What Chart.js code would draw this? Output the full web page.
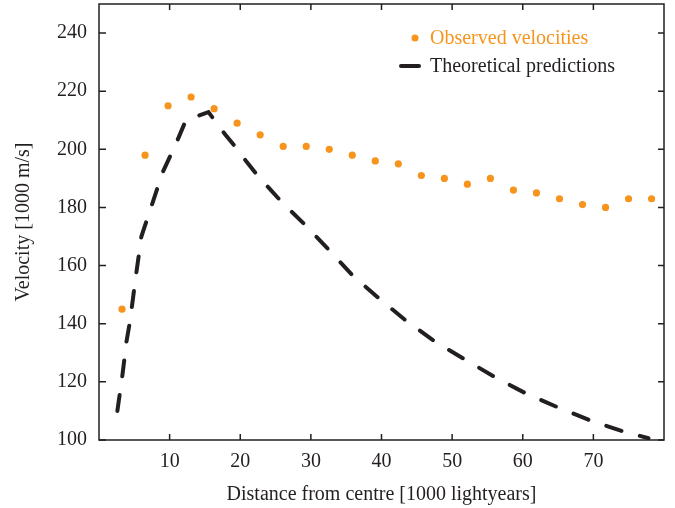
<!DOCTYPE html>
<html>
<head>
<meta charset="utf-8">
<script src="https://cdn.jsdelivr.net/npm/chart.js@4.4.1/dist/chart.umd.min.js"></script>
<style>
	html, body { margin: 0; padding: 0; background: #fff; }
</style>
</head>
<body>
<canvas id="myChart" width="675" height="508"></canvas>
<script>
// observed points (x in 1000 lightyears)
var distance = [3.26, 6.52, 9.78, 13.04, 16.3, 19.56, 22.82, 26.08, 29.34, 32.6, 35.86, 39.12,
	42.38, 45.64, 48.9, 52.16, 55.42, 58.68, 61.94, 65.2, 68.46, 71.72, 74.98, 78.24];
var observed = [145, 198, 215, 218, 214, 209, 205, 201, 201, 200, 198, 196,
	195, 191, 190, 188, 190, 186, 185, 183, 181, 180, 183, 183];

// theoretical curve
var theoryDistance = [2.6, 3.3, 3.9, 4.4, 5.2, 6.0, 7.5, 9.0, 11.0, 12.3, 15.5, 17.9, 19.5, 20.9,
	22.6, 25.9, 29.4, 32.7, 36.0, 39.8, 43.6, 47.5, 51.8, 56.1, 60.3, 64.8, 69.5, 74.0, 77.8];
var theoryVelocity = [110, 122, 134, 141, 156, 170, 181, 192, 202.5, 210, 212.8, 205, 200.3, 195.7,
	190.6, 181.8, 173.5, 165, 156.4, 148.4, 140.8, 134, 127.7, 121.6, 116.2, 111.4, 106.8, 103.1, 100.6];

var xTicks = [10, 20, 30, 40, 50, 60, 70];
var yTicks = [100, 120, 140, 160, 180, 200, 220, 240];

var orange = '#f7941d';
var ink = '#231f20';
var serif = '"Liberation Serif", "Times New Roman", serif';

function toPoints(xs, ys) {
	return xs.map(function(x, i) {
		return { x: x, y: ys[i] };
	});
}

// box round the plot with ticks pointing inwards
var frameTicks = {
	id: 'frameTicks',
	afterDraw: function(chart) {
		var ctx = chart.ctx;
		var a = chart.chartArea;
		var xs = chart.scales.x;
		var ys = chart.scales.y;
		ctx.save();
		ctx.strokeStyle = ink;
		ctx.lineWidth = 1.5;
		ctx.strokeRect(a.left, a.top, a.right - a.left, a.bottom - a.top);
		ctx.beginPath();
		xs.ticks.forEach(function(t) {
			var px = xs.getPixelForValue(t.value);
			ctx.moveTo(px, a.bottom);
			ctx.lineTo(px, a.bottom - 6);
			ctx.moveTo(px, a.top);
			ctx.lineTo(px, a.top + 6);
		});
		ys.ticks.forEach(function(t) {
			var py = ys.getPixelForValue(t.value);
			ctx.moveTo(a.left, py);
			ctx.lineTo(a.left + 7, py);
			ctx.moveTo(a.right, py);
			ctx.lineTo(a.right - 6, py);
		});
		ctx.stroke();
		ctx.restore();
	}
};

// legend inside the plot, top right
var innerLegend = {
	id: 'innerLegend',
	afterDraw: function(chart) {
		var ctx = chart.ctx;
		var sets = chart.data.datasets;
		ctx.save();
		ctx.font = '20px ' + serif;
		ctx.textBaseline = 'middle';
		ctx.textAlign = 'left';

		ctx.fillStyle = orange;
		ctx.beginPath();
		ctx.arc(415, 38, 3.5, 0, Math.PI * 2);
		ctx.fill();
		ctx.fillText(sets[1].label, 430, 39);

		ctx.strokeStyle = ink;
		ctx.lineWidth = 4;
		ctx.lineCap = 'round';
		ctx.beginPath();
		ctx.moveTo(401, 66);
		ctx.lineTo(419, 66);
		ctx.stroke();
		ctx.fillStyle = ink;
		ctx.fillText(sets[0].label, 430, 67);
		ctx.restore();
	}
};

var ctx = document.getElementById('myChart').getContext('2d');
var myChart = new Chart(ctx, {
	type: 'scatter',
	data: {
		datasets: [
			{
				label: 'Theoretical predictions',
				data: toPoints(theoryDistance, theoryVelocity),
				showLine: true,
				borderColor: ink,
				borderWidth: 4,
				borderDash: [16, 19],
				borderCapStyle: 'round',
				pointRadius: 0,
				tension: 0,
				order: 2
			},
			{
				label: 'Observed velocities',
				data: toPoints(distance, observed),
				showLine: false,
				pointRadius: 3.6,
				pointBackgroundColor: orange,
				pointBorderWidth: 0,
				borderColor: orange,
				order: 1
			}
		]
	},
	options: {
		responsive: false,
		animation: false,
		layout: {
			padding: { left: 0, top: 2, right: 11, bottom: 0 }
		},
		plugins: {
			legend: { display: false },
			tooltip: { enabled: false }
		},
		scales: {
			x: {
				type: 'linear',
				min: 0,
				max: 80,
				afterBuildTicks: function(scale) {
					scale.ticks = xTicks.map(function(v) { return { value: v }; });
				},
				afterFit: function(scale) {
					scale.height = 68;
					scale.paddingLeft = 0;
					scale.paddingRight = 0;
				},
				grid: { display: false, drawTicks: false },
				border: { display: false },
				ticks: {
					padding: 10,
					color: ink,
					font: { family: serif, size: 20 }
				},
				title: {
					display: true,
					text: 'Distance from centre [1000 lightyears]',
					color: ink,
					font: { family: serif, size: 20 },
					padding: { top: 0, bottom: 1 }
				}
			},
			y: {
				type: 'linear',
				min: 100,
				max: 250,
				afterBuildTicks: function(scale) {
					scale.ticks = yTicks.map(function(v) { return { value: v }; });
				},
				afterFit: function(scale) {
					scale.width = 99;
					scale.paddingTop = 0;
					scale.paddingBottom = 0;
				},
				grid: { display: false, drawTicks: false },
				border: { display: false },
				ticks: {
					padding: 12,
					color: ink,
					font: { family: serif, size: 20 }
				},
				title: {
					display: true,
					text: 'Velocity [1000 m/s]',
					color: ink,
					font: { family: serif, size: 20 },
					padding: { top: 12, bottom: 0 }
				}
			}
		}
	},
	plugins: [frameTicks, innerLegend]
});
</script>
</body>
</html>
